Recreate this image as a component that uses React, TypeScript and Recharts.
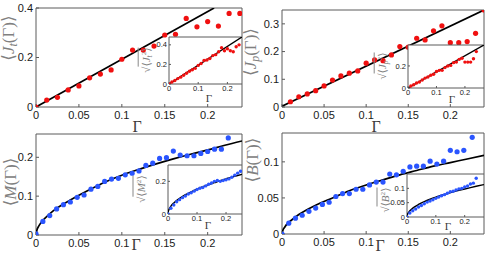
import React from 'react';
import { ComposedChart, XAxis, YAxis, Scatter, Line, ReferenceArea } from 'recharts';

// ---------- Top-left: <J_t(Γ)> ----------
const jtGamma = [0, 0.0125, 0.025, 0.0375, 0.05, 0.0625, 0.075, 0.0875, 0.1, 0.1125, 0.125, 0.1375, 0.15, 0.1625, 0.175, 0.1875, 0.2, 0.2125, 0.225, 0.2375];
const jtValues = [0, 0.028, 0.039, 0.069, 0.085, 0.118, 0.133, 0.15, 0.193, 0.23, 0.23, 0.246, 0.291, 0.294, 0.358, 0.324, 0.345, 0.327, 0.378, 0.378];
const jtFitGamma = [0, 0.2075];
const jtFitValues = [0, 0.4];
const jtInsetGamma = [0, 0.01, 0.02, 0.03, 0.04, 0.05, 0.06, 0.07, 0.08, 0.09, 0.1, 0.11, 0.12, 0.13, 0.14, 0.15, 0.16, 0.17, 0.18, 0.19, 0.2, 0.21, 0.22, 0.23, 0.24];
const jtInsetValues = [0, 0.02, 0.035, 0.055, 0.07, 0.09, 0.11, 0.13, 0.145, 0.16, 0.19, 0.21, 0.24, 0.245, 0.26, 0.29, 0.3, 0.33, 0.37, 0.34, 0.36, 0.34, 0.33, 0.38, 0.4];
const jtInsetFitGamma = [0, 0.25];
const jtInsetFitValues = [0, 0.48];

// ---------- Top-right: <J_p(Γ)> ----------
const jpGamma = [0.01, 0.02, 0.03, 0.04, 0.05, 0.06, 0.07, 0.08, 0.09, 0.1, 0.11, 0.12, 0.13, 0.14, 0.15, 0.16, 0.17, 0.18, 0.19, 0.2, 0.21, 0.22, 0.23, 0.24];
const jpValues = [0.019, 0.037, 0.047, 0.059, 0.076, 0.097, 0.112, 0.122, 0.13, 0.158, 0.17, 0.167, 0.188, 0.218, 0.216, 0.248, 0.242, 0.275, 0.293, 0.232, 0.232, 0.236, 0.266, 0.35];
const jpFitGamma = [0, 0.24];
const jpFitValues = [0.003, 0.35];
const jpInsetGamma = [0.01, 0.02, 0.03, 0.04, 0.05, 0.06, 0.07, 0.08, 0.09, 0.1, 0.11, 0.12, 0.13, 0.14, 0.15, 0.16, 0.17, 0.18, 0.19, 0.2, 0.21, 0.22, 0.23, 0.24];
const jpInsetValues = [0.018, 0.03, 0.045, 0.055, 0.072, 0.09, 0.1, 0.115, 0.125, 0.15, 0.16, 0.16, 0.185, 0.2, 0.205, 0.23, 0.235, 0.26, 0.27, 0.235, 0.235, 0.235, 0.265, 0.33];
const jpInsetFitGamma = [0, 0.267];
const jpInsetFitValues = [0, 0.39];

// ---------- Bottom-left: <M(Γ)> ----------
const mGamma = [0, 0.008, 0.016, 0.024, 0.032, 0.04, 0.048, 0.056, 0.064, 0.072, 0.08, 0.088, 0.096, 0.104, 0.112, 0.12, 0.128, 0.136, 0.144, 0.152, 0.16, 0.168, 0.176, 0.184, 0.192, 0.2, 0.208, 0.216, 0.224];
const mValues = [0.003, 0.035, 0.05, 0.067, 0.078, 0.085, 0.097, 0.103, 0.118, 0.125, 0.138, 0.144, 0.146, 0.155, 0.159, 0.165, 0.179, 0.185, 0.197, 0.199, 0.216, 0.206, 0.204, 0.204, 0.21, 0.215, 0.221, 0.221, 0.25];
const mFitGamma = [0, 0.001, 0.003, 0.006, 0.01, 0.02, 0.04, 0.06, 0.08, 0.1, 0.12, 0.14, 0.16, 0.18, 0.2, 0.22, 0.24];
const mFitValues = [0, 0.012, 0.022, 0.032, 0.042, 0.062, 0.09, 0.114, 0.136, 0.154, 0.169, 0.183, 0.196, 0.208, 0.219, 0.231, 0.242];
const mInsetGamma = [0, 0.01, 0.02, 0.03, 0.04, 0.05, 0.06, 0.07, 0.08, 0.09, 0.1, 0.11, 0.12, 0.13, 0.14, 0.15, 0.16, 0.17, 0.18, 0.19, 0.2, 0.21, 0.22, 0.23, 0.24, 0.25];
const mInsetValues = [0, 0.035, 0.055, 0.075, 0.088, 0.1, 0.11, 0.122, 0.13, 0.14, 0.15, 0.158, 0.162, 0.172, 0.182, 0.19, 0.2, 0.205, 0.2, 0.205, 0.21, 0.215, 0.225, 0.238, 0.25, 0.262];
const mInsetFitGamma = [0, 0.001, 0.003, 0.006, 0.01, 0.02, 0.04, 0.06, 0.08, 0.1, 0.12, 0.14, 0.16, 0.18, 0.2, 0.22, 0.24, 0.255];
const mInsetFitValues = [0, 0.0152, 0.026, 0.037, 0.048, 0.068, 0.096, 0.118, 0.136, 0.152, 0.167, 0.18, 0.192, 0.204, 0.215, 0.226, 0.236, 0.243];

// ---------- Bottom-right: <B(Γ)> ----------
const bGamma = [0, 0.008, 0.016, 0.024, 0.032, 0.04, 0.048, 0.056, 0.064, 0.072, 0.08, 0.088, 0.096, 0.104, 0.112, 0.12, 0.128, 0.136, 0.144, 0.152, 0.16, 0.168, 0.176, 0.184, 0.192, 0.2, 0.208, 0.216, 0.226];
const bValues = [0, 0.015, 0.022, 0.026, 0.0315, 0.036, 0.041, 0.044, 0.052, 0.056, 0.056, 0.062, 0.062, 0.068, 0.072, 0.072, 0.083, 0.082, 0.087, 0.093, 0.094, 0.094, 0.101, 0.097, 0.101, 0.116, 0.114, 0.116, 0.134];
const bFitGamma = [0, 0.001, 0.003, 0.006, 0.01, 0.02, 0.04, 0.06, 0.08, 0.1, 0.12, 0.14, 0.16, 0.18, 0.2, 0.22, 0.24];
const bFitValues = [0, 0.005, 0.009, 0.014, 0.018, 0.027, 0.04, 0.05, 0.06, 0.068, 0.075, 0.082, 0.088, 0.094, 0.099, 0.104, 0.109];
const bInsetGamma = [0, 0.01, 0.02, 0.03, 0.04, 0.05, 0.06, 0.07, 0.08, 0.09, 0.1, 0.11, 0.12, 0.13, 0.14, 0.15, 0.16, 0.17, 0.18, 0.19, 0.2, 0.21, 0.22, 0.23, 0.24];
const bInsetValues = [0, 0.014, 0.022, 0.028, 0.035, 0.04, 0.046, 0.052, 0.056, 0.06, 0.065, 0.07, 0.074, 0.078, 0.083, 0.088, 0.09, 0.094, 0.098, 0.1, 0.105, 0.108, 0.115, 0.118, 0.135];
const bInsetFitGamma = [0, 0.002, 0.005, 0.01, 0.02, 0.04, 0.06, 0.08, 0.1, 0.12, 0.14, 0.16, 0.18, 0.2, 0.22, 0.24, 0.267];
const bInsetFitValues = [0, 0.0098, 0.0155, 0.0219, 0.0309, 0.0437, 0.0536, 0.0619, 0.0692, 0.0758, 0.0818, 0.0875, 0.0928, 0.0978, 0.1026, 0.1071, 0.113];

// ---------- tick labels ----------
const mainXTicks = [0, 0.05, 0.1, 0.15, 0.2];
const insetXTicks = [0, 0.1, 0.2];
const jtYTicks = [0, 0.2, 0.4];
const jpYTicks = [0, 0.1, 0.2, 0.3];
const mYTicks = [0, 0.1, 0.2];
const bYTicks = [0, 0.05, 0.1];
const jtInsetYTicks = [0, 0.2, 0.4];
const jpInsetYTicks = [0, 0.2];
const mInsetYTicks = [0, 0.2];
const bInsetYTicks = [0, 0.05, 0.1];

const RED = '#f01010';
const BLUE = '#2a55ff';
const AXIS = '#5a5a5a';
const SANS = '"Liberation Sans", Arial, Helvetica, sans-serif';
const SERIF = '"Liberation Serif", "DejaVu Serif", "Times New Roman", serif';

type Pt = { x: number; y: number };
const zip = (xs: number[], ys: number[]): Pt[] => xs.map((x, i) => ({ x, y: ys[i] }));

interface PanelProps {
  left: number; top: number; width: number; height: number;
  mTop: number; mRight: number; yAxisWidth: number; xAxisHeight: number;
  xDomain: [number, number]; yDomain: [number, number];
  xTicks: number[]; yTicks: number[];
  points: Pt[]; fit: Pt[]; curved?: boolean;
  color: string; r: number; fontSize: number; tickLen: number; lineWidth: number;
  xGap: number; yGap: number; inset?: boolean;
}

function Panel(p: PanelProps) {
  const tickStyle = { fontSize: p.fontSize, fill: '#1a1a1a', fontFamily: SANS };
  const tl = { stroke: AXIS, strokeWidth: 1 };
  const shape = (props: any) => <circle cx={props.cx} cy={props.cy} r={p.r} fill={p.color} />;
  return (
    <div style={{ position: 'absolute', left: p.left, top: p.top }}>
      <ComposedChart width={p.width} height={p.height} margin={{ top: p.mTop, right: p.mRight, bottom: 0, left: 0 }}>
        <XAxis xAxisId="b" type="number" dataKey="x" domain={p.xDomain} ticks={p.xTicks} allowDataOverflow interval={0}
          orientation="bottom" height={p.xAxisHeight} tickSize={-p.tickLen} tickMargin={p.tickLen + p.xGap}
          stroke={AXIS} tick={tickStyle} axisLine={false} tickLine={tl} />
        <XAxis xAxisId="t" type="number" dataKey="x" domain={p.xDomain} ticks={p.xTicks} allowDataOverflow interval={0}
          orientation="top" height={0} tickSize={-p.tickLen} stroke={AXIS} tick={false} axisLine={false} tickLine={tl} />
        <YAxis yAxisId="l" type="number" domain={p.yDomain} ticks={p.yTicks} allowDataOverflow interval={0}
          orientation="left" width={p.yAxisWidth} tickSize={-p.tickLen} tickMargin={p.tickLen + p.yGap}
          stroke={AXIS} tick={tickStyle} axisLine={false} tickLine={tl} />
        <YAxis yAxisId="r" type="number" domain={p.yDomain} ticks={p.yTicks} allowDataOverflow interval={0}
          orientation="right" width={0} tickSize={-p.tickLen} stroke={AXIS} tick={false} axisLine={false} tickLine={tl} />
        <ReferenceArea xAxisId="b" yAxisId="l" x1={p.xDomain[0]} x2={p.xDomain[1]} y1={p.yDomain[0]} y2={p.yDomain[1]}
          fill={p.inset ? '#ffffff' : 'none'} fillOpacity={1} stroke={AXIS} strokeWidth={1} ifOverflow="visible" />
        <Scatter xAxisId="b" yAxisId="l" data={p.points} dataKey="y" fill={p.color} shape={shape} isAnimationActive={false} />
        <Line xAxisId="b" yAxisId="l" data={p.fit} dataKey="y" type={p.curved ? 'monotone' : 'linear'} stroke="#000"
          strokeWidth={p.lineWidth} dot={false} activeDot={false} isAnimationActive={false} />
      </ComposedChart>
    </div>
  );
}

function RotLabel({ x, y, size, color, children }: { x: number; y: number; size: number; color: string; children: React.ReactNode }) {
  return (
    <div style={{ position: 'absolute', left: x, top: y, transform: 'translate(-50%, -50%) rotate(-90deg)', whiteSpace: 'nowrap',
      fontFamily: SERIF, fontSize: size, color, lineHeight: 1 }}>
      {children}
    </div>
  );
}

function GammaLabel({ x, y, size }: { x: number; y: number; size: number }) {
  return (
    <div style={{ position: 'absolute', left: x, top: y, transform: 'translate(-50%, -50%)', fontFamily: SERIF, fontSize: size, color: '#3a3a3a', lineHeight: 1 }}>Γ</div>
  );
}

const subStyle: React.CSSProperties = { fontSize: '0.7em', verticalAlign: '-0.25em', fontStyle: 'italic' };
const supStyle: React.CSSProperties = { fontSize: '0.65em', verticalAlign: '0.5em' };

function SqrtLabel({ letter, sub }: { letter: string; sub?: string }) {
  return (
    <span>
      <span>√</span>
      <span style={{ borderTop: '1px solid #888', paddingTop: 1 }}>
        ⟨<i>{letter}</i>{sub && <span style={subStyle}>{sub}</span>}<span style={supStyle}>2</span>⟩
      </span>
    </span>
  );
}

export default function App() {
  const main = { fontSize: 11, tickLen: 3, lineWidth: 1.7, r: 2.6, xGap: 4, yGap: 3 };
  const ins = { fontSize: 7.5, tickLen: 2, lineWidth: 1.4, r: 1.7, xGap: 2, yGap: 2, inset: true };
  return (
    <div style={{ position: 'absolute', left: 0, top: 0, width: 491, height: 256, background: '#fff', overflow: 'hidden' }}>
      {/* Top-left */}
      <Panel {...main} left={0} top={0} width={250} height={128} mTop={8} mRight={8} yAxisWidth={36} xAxisHeight={21}
        xDomain={[0, 0.24]} yDomain={[0, 0.4]} xTicks={mainXTicks} yTicks={jtYTicks}
        points={zip(jtGamma, jtValues)} fit={zip(jtFitGamma, jtFitValues)} color={RED} />
      {/* Top-right */}
      <Panel {...main} left={246} top={0} width={245} height={128} mTop={10} mRight={7} yAxisWidth={36} xAxisHeight={21}
        xDomain={[0, 0.24]} yDomain={[0, 0.35]} xTicks={mainXTicks} yTicks={jpYTicks}
        points={zip(jpGamma, jpValues)} fit={zip(jpFitGamma, jpFitValues)} color={RED} />
      {/* Bottom-left */}
      <Panel {...main} left={0} top={128} width={250} height={128} mTop={6} mRight={8} yAxisWidth={36} xAxisHeight={21}
        xDomain={[0, 0.24]} yDomain={[0, 0.26]} xTicks={mainXTicks} yTicks={mYTicks}
        points={zip(mGamma, mValues)} fit={zip(mFitGamma, mFitValues)} curved color={BLUE} />
      {/* Bottom-right */}
      <Panel {...main} left={246} top={128} width={245} height={128} mTop={5} mRight={7} yAxisWidth={36} xAxisHeight={22}
        xDomain={[0, 0.24]} yDomain={[0, 0.14]} xTicks={mainXTicks} yTicks={bYTicks}
        points={zip(bGamma, bValues)} fit={zip(bFitGamma, bFitValues)} curved color={BLUE} />

      {/* Insets */}
      <Panel {...ins} left={140} top={30} width={102} height={70} mTop={7} mRight={0} yAxisWidth={29} xAxisHeight={16}
        xDomain={[0, 0.25]} yDomain={[0, 0.48]} xTicks={insetXTicks} yTicks={jtInsetYTicks}
        points={zip(jtInsetGamma, jtInsetValues)} fit={zip(jtInsetFitGamma, jtInsetFitValues)} color={RED} />
      <Panel {...ins} left={380} top={38} width={104} height={66} mTop={7} mRight={0} yAxisWidth={28} xAxisHeight={16}
        xDomain={[0, 0.267]} yDomain={[0, 0.39]} xTicks={insetXTicks} yTicks={jpInsetYTicks}
        points={zip(jpInsetGamma, jpInsetValues)} fit={zip(jpInsetFitGamma, jpInsetFitValues)} color={RED} />
      <Panel {...ins} left={140} top={158} width={102} height={72} mTop={7} mRight={0} yAxisWidth={28} xAxisHeight={16}
        xDomain={[0, 0.255]} yDomain={[0, 0.3]} xTicks={insetXTicks} yTicks={mInsetYTicks}
        points={zip(mInsetGamma, mInsetValues)} fit={zip(mInsetFitGamma, mInsetFitValues)} curved color={BLUE} />
      <Panel {...ins} left={380} top={167} width={104} height={66} mTop={7} mRight={0} yAxisWidth={27} xAxisHeight={16}
        xDomain={[0, 0.267]} yDomain={[0, 0.15]} xTicks={insetXTicks} yTicks={bInsetYTicks}
        points={zip(bInsetGamma, bInsetValues)} fit={zip(bInsetFitGamma, bInsetFitValues)} curved color={BLUE} />

      {/* Axis titles */}
      <RotLabel x={10} y={38} size={17} color="#808080">⟨<i>J</i><span style={subStyle}>t</span>(Γ)⟩</RotLabel>
      <RotLabel x={252} y={52} size={17} color="#808080">⟨<i>J</i><span style={subStyle}>p</span>(Γ)⟩</RotLabel>
      <RotLabel x={10} y={182} size={17} color="#808080">⟨<i>M</i>(Γ)⟩</RotLabel>
      <RotLabel x={252} y={160} size={17} color="#808080">⟨<i>B</i>(Γ)⟩</RotLabel>

      <GammaLabel x={137} y={127} size={16} />
      <GammaLabel x={376} y={127} size={16} />
      <GammaLabel x={136} y={245} size={16} />
      <GammaLabel x={380} y={246} size={16} />

      <RotLabel x={147} y={60} size={11} color="#808080"><SqrtLabel letter="J" sub="t" /></RotLabel>
      <RotLabel x={383} y={66} size={11} color="#808080"><SqrtLabel letter="J" sub="p" /></RotLabel>
      <RotLabel x={141} y={189} size={11} color="#808080"><SqrtLabel letter="M" /></RotLabel>
      <RotLabel x={385} y={200} size={11} color="#808080"><SqrtLabel letter="B" /></RotLabel>

      <GammaLabel x={209} y={98} size={11} />
      <GammaLabel x={452} y={99} size={11} />
      <GammaLabel x={208} y={225} size={11} />
      <GammaLabel x={448} y={226} size={11} />
    </div>
  );
}
